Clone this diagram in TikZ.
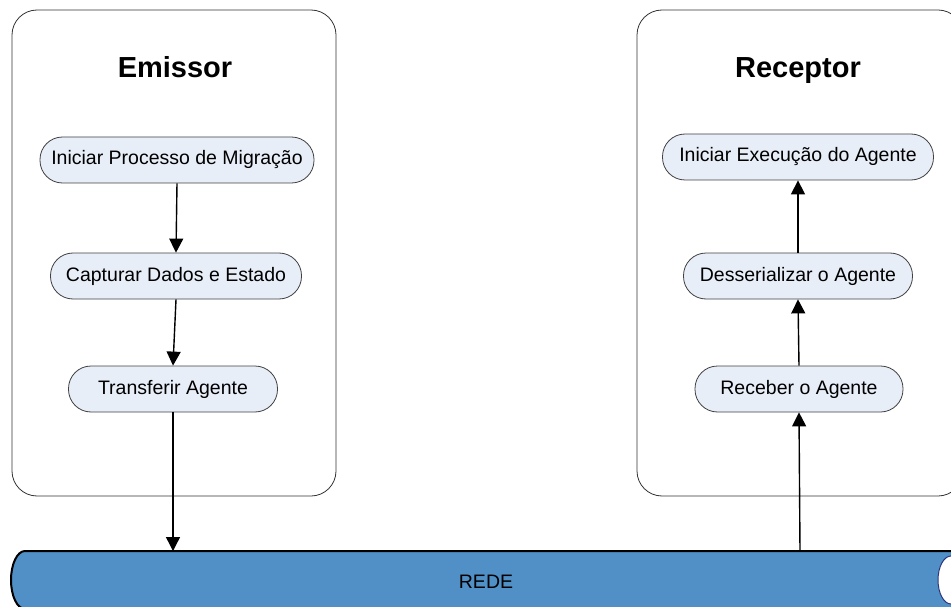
\documentclass[tikz,border=0pt]{standalone}
\usepackage{fontspec}
\setmainfont{Liberation Sans}
\usetikzlibrary{arrows.meta}
\definecolor{stepfill}{RGB}{232,238,248}
\definecolor{netblue}{RGB}{80,144,198}
\definecolor{rimblue}{RGB}{45,55,125}
\begin{document}
\begin{tikzpicture}[x=1pt,y=-1pt,
  panel/.style={draw=black!80, line width=0.8pt, rounded corners=25pt},
  stepbox/.style={draw=black!75, line width=0.8pt, fill=stepfill, rounded corners=22.5pt,
    minimum height=46pt, inner sep=0pt, font=\fontsize{19.5}{21}\selectfont},
  paneltitle/.style={anchor=base, font=\fontsize{29}{33}\selectfont\bfseries},
  flow/.style={line width=1.4pt, -{Triangle[length=14pt,width=14pt]}}]

\useasboundingbox (0,0) rectangle (951,607);

% sender and receiver panels
\draw[panel] (12,10) rectangle (336,496);
\draw[panel] (637,10) rectangle (963,496);
\node[paneltitle] (tsend) at (175,78) {Emissor};
\node[paneltitle] (trecv) at (798,78) {Receptor};

% network pipe
\draw[fill=netblue, line width=2pt]
  (970,551) -- (25,551) arc[start angle=270, end angle=90, x radius=14, y radius=29]
  -- (970,609);
\draw[draw=rimblue, fill=white, line width=1pt] (951,580) ellipse [x radius=13, y radius=24];
\node[font=\fontsize{19.5}{21}\selectfont] (rede) at (486,582) {REDE};
\coordinate (netin) at (173,551);
\coordinate (netout) at (800,551);

% sender steps
\node[stepbox, minimum width=274pt] (s1) at (177,160) {Iniciar Processo de Migração};
\node[stepbox, minimum width=251pt] (s2) at (176,276) {Capturar Dados e Estado};
\node[stepbox, minimum width=209pt] (s3) at (173,389) {Transferir Agente};

% receiver steps
\node[stepbox, minimum width=271pt] (r3) at (798,157) {Iniciar Execução do Agente};
\node[stepbox, minimum width=229pt] (r2) at (798,276) {Desserializar o Agente};
\node[stepbox, minimum width=208pt] (r1) at (799,389) {Receber o Agente};

% flow
\draw[flow] (s1.south) -- (s2.north);
\draw[flow] (s2.south) -- (s3.north);
\draw[flow] (s3.south) -- (netin);
\draw[flow] (netout) -- (r1.south);
\draw[flow] (r1.north) -- (r2.south);
\draw[flow] (r2.north) -- (r3.south);
\end{tikzpicture}
\end{document}
